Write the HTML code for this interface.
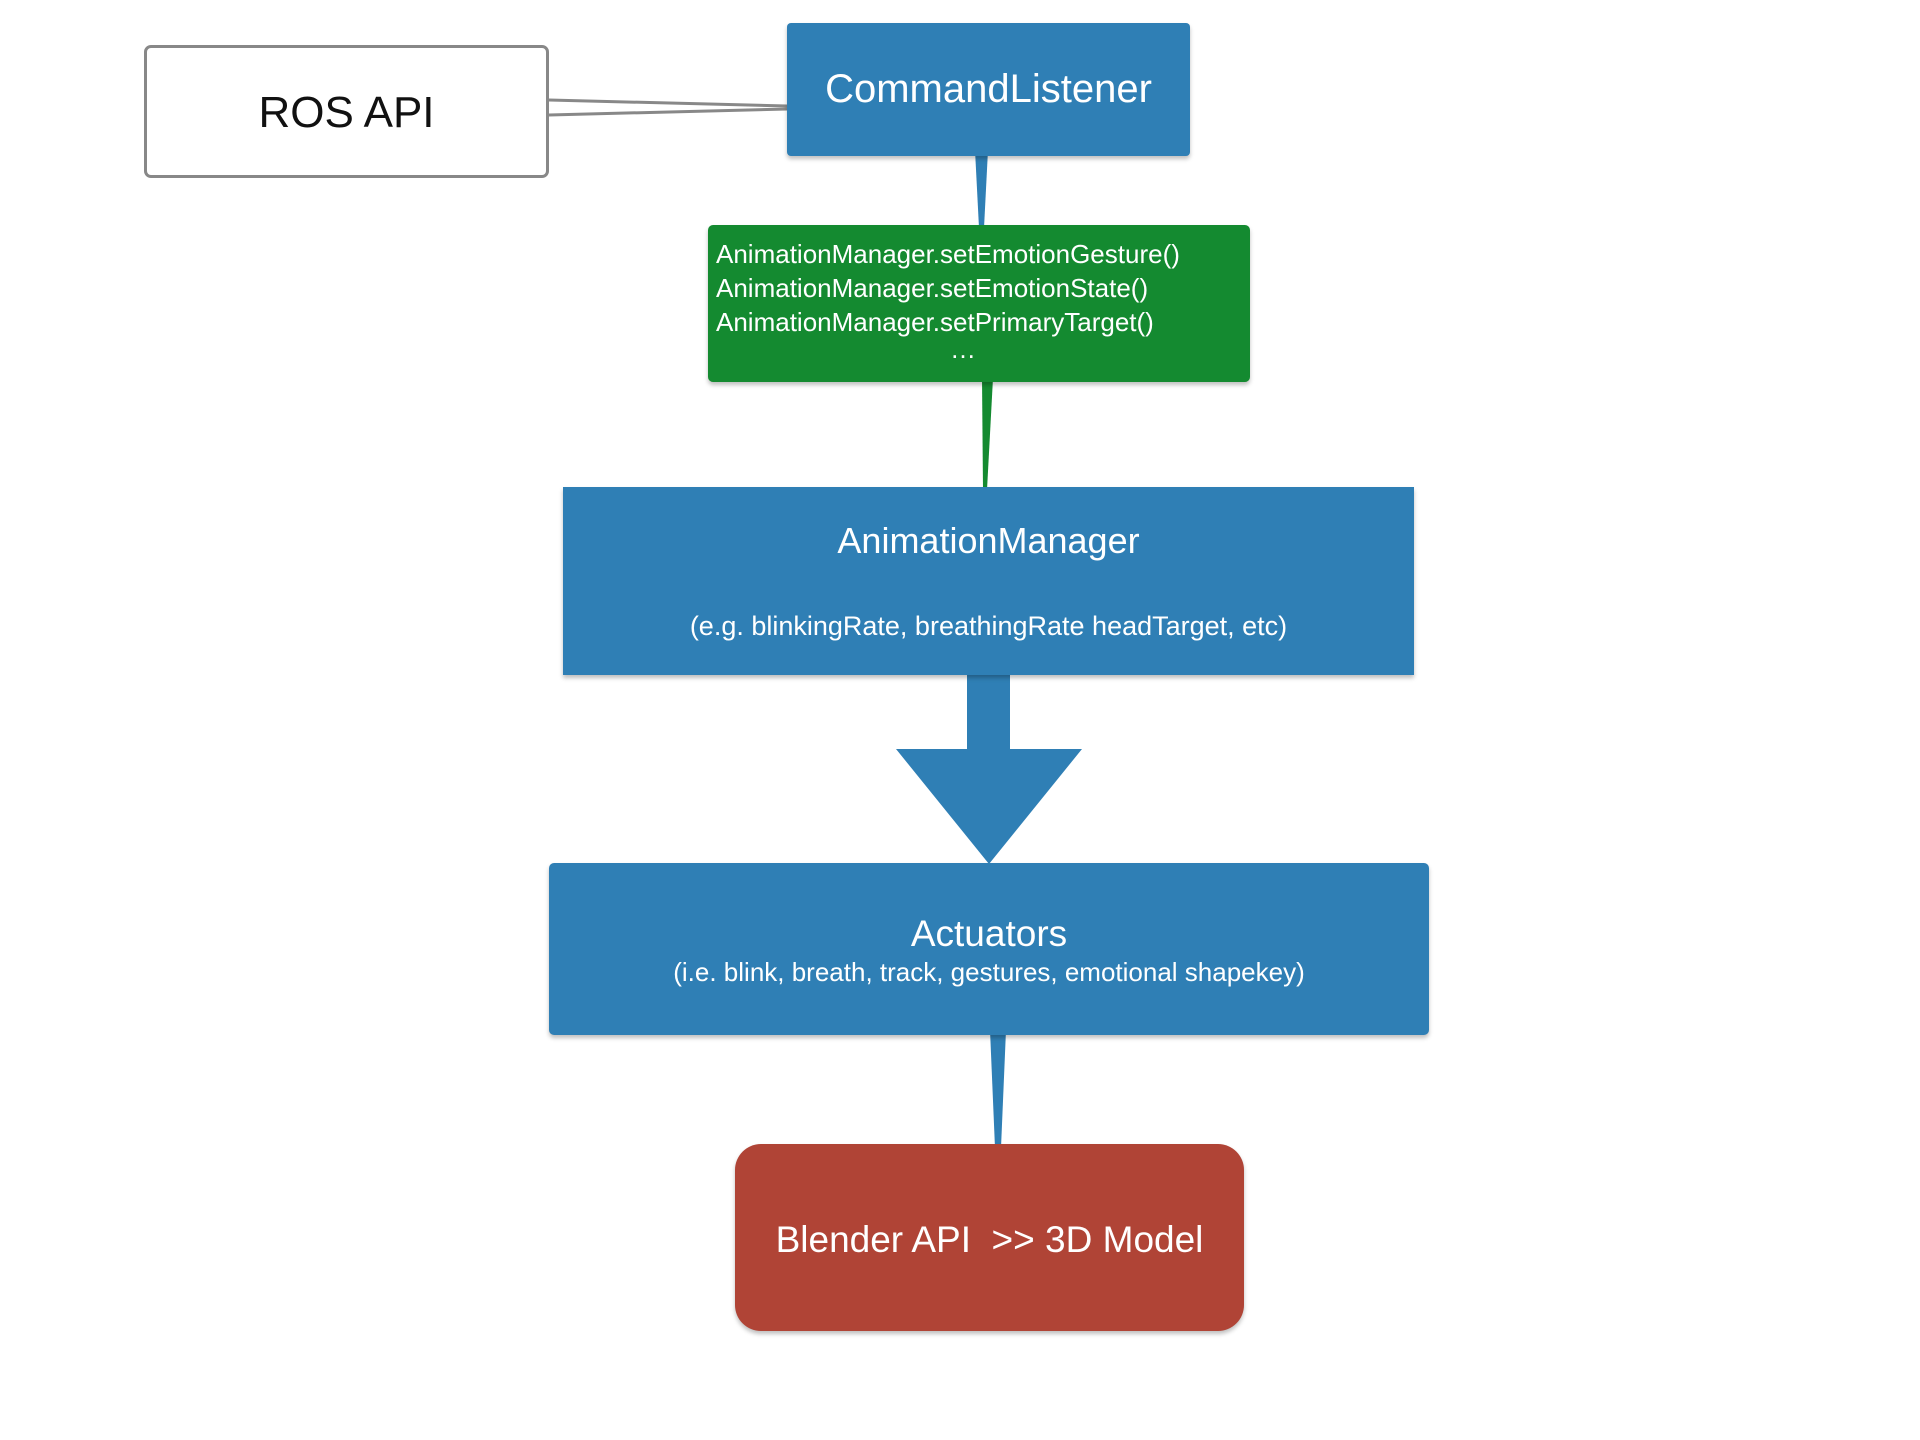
<!DOCTYPE html>
<html><head><meta charset="utf-8"><style>
body{margin:0;width:1920px;height:1440px;background:#fff;position:relative;overflow:hidden;font-family:"Liberation Sans",sans-serif;}
.b{position:absolute;box-sizing:border-box;color:#fff;box-shadow:0 3px 4px rgba(0,0,0,0.25);}
.blue{background:#2f7fb5;}
.c{position:absolute;left:0;right:0;text-align:center;white-space:nowrap;}
</style></head><body>
<svg width="1920" height="1440" style="position:absolute;left:0;top:0">
<polyline points="549,100 787,106" stroke="#888" stroke-width="3" fill="none"/>
<polyline points="549,115 787,109" stroke="#888" stroke-width="3" fill="none"/>
<polygon points="975,150 988,150 984,228 979,228" fill="#2f7fb5"/>
<polygon points="982,378 993,378 987,490 983,490" fill="#148a30"/>
<polygon points="967,672 1010,672 1010,749 1082,749 989,864 896,749 967,749" fill="#2f7fb5"/>
<polygon points="990,1030 1006,1030 1001,1148 995,1148" fill="#2f7fb5"/>
</svg>
<div class="b" style="left:144px;top:45px;width:405px;height:133px;border:3px solid #888;border-radius:7px;background:#fff;box-shadow:none;color:#111">
<div class="c" style="top:40px;font-size:44px;">ROS API</div></div>
<div class="b blue" style="left:787px;top:23px;width:403px;height:133px;border-radius:4px">
<div class="c" style="top:44px;font-size:40px;">CommandListener</div></div>
<div class="b" style="left:708px;top:225px;width:542px;height:157px;background:#148a30;border-radius:5px;font-size:26px;line-height:34px;padding:12px 0 0 8px;white-space:nowrap">
AnimationManager.setEmotionGesture()<br>AnimationManager.setEmotionState()<br>AnimationManager.setPrimaryTarget()<br><span style="display:block;text-align:center;margin-left:-40px;line-height:20px">…</span></div>
<div class="b blue" style="left:563px;top:487px;width:851px;height:188px">
<div class="c" style="top:33px;font-size:36px;">AnimationManager</div>
<div class="c" style="top:124px;font-size:27px;">(e.g. blinkingRate, breathingRate headTarget, etc)</div></div>
<div class="b blue" style="left:549px;top:863px;width:880px;height:172px;border-radius:5px">
<div class="c" style="top:50px;font-size:37px;">Actuators</div>
<div class="c" style="top:94px;font-size:26px;">(i.e. blink, breath, track, gestures, emotional shapekey)</div></div>
<div class="b" style="left:735px;top:1144px;width:509px;height:187px;background:#b04436;border-radius:26px">
<div class="c" style="top:75px;font-size:37px;">Blender API&nbsp; &gt;&gt; 3D Model</div></div>
</body></html>
